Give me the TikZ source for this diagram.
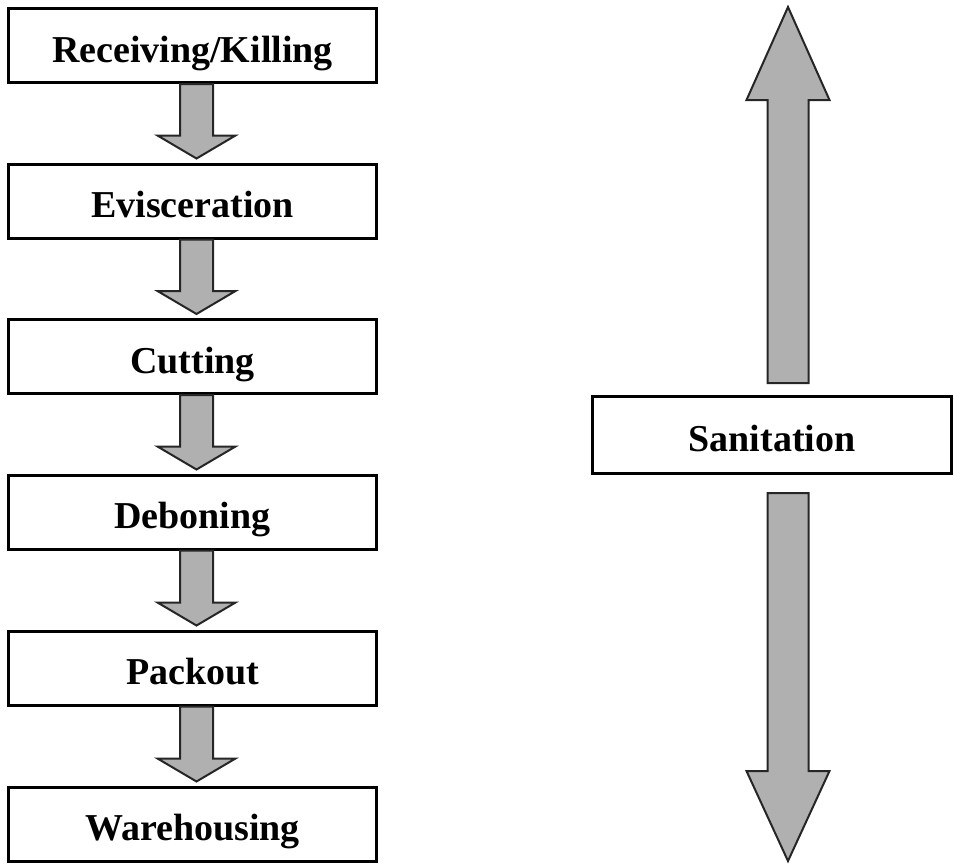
\documentclass[tikz,border=0pt]{standalone}
\usepackage{fontspec}
\setmainfont{Liberation Serif}
\usetikzlibrary{calc}

% block arrow: from, to, shaft half width, head half width, head length
\newcommand{\blockarrow}[5]{%
\draw[blockarrow] let \p1=(#1), \p2=(#2), \p3=($(#2)!#5!(#1)$) in
  (\x2-#3,\y1) -- (\x2-#3,\y3) -- (\x2-#4,\y3) -- (\x2,\y2)
  -- (\x2+#4,\y3) -- (\x2+#3,\y3) -- (\x2+#3,\y1) -- cycle;}

\begin{document}
\begin{tikzpicture}[x=1pt, y=-1pt,
  every node/.style={draw, rectangle, line width=3pt, fill=white, inner sep=0pt,
    minimum width=368pt, minimum height=74pt, text height=33pt, text depth=0pt,
    font=\fontsize{38}{44}\selectfont\bfseries},
  blockarrow/.style={draw=black!85, fill=black!31, line width=2pt}]
\useasboundingbox (0,0) rectangle (954,863);
\node (recv) at (192.5,45.5) {Receiving/Killing};
\node (evisc) at (192.5,201) {Evisceration};
\node (cut) at (192.5,356.5) {Cutting};
\node (debone) at (192.5,512) {Deboning};
\node (pack) at (192.5,668) {Packout};
\node (ware) at (192.5,824) {Warehousing};
\node[minimum width=359pt, minimum height=77pt] (sanit) at (772,435) {Sanitation};
\coordinate (uptip) at (788,7);
\coordinate (downtip) at (788,861);
\blockarrow{[xshift=4pt]recv.south}{[xshift=4pt,yshift=4pt]evisc.north}{16.5pt}{39pt}{23pt}
\blockarrow{[xshift=4pt]evisc.south}{[xshift=4pt,yshift=4pt]cut.north}{16.5pt}{39pt}{23pt}
\blockarrow{[xshift=4pt]cut.south}{[xshift=4pt,yshift=4pt]debone.north}{16.5pt}{39pt}{23pt}
\blockarrow{[xshift=4pt]debone.south}{[xshift=4pt,yshift=4pt]pack.north}{16.5pt}{39pt}{23pt}
\blockarrow{[xshift=4pt]pack.south}{[xshift=4pt,yshift=4pt]ware.north}{16.5pt}{39pt}{23pt}
\blockarrow{[xshift=16pt,yshift=12pt]sanit.north}{uptip}{20.5pt}{41.5pt}{93pt}
\blockarrow{[xshift=16pt,yshift=-18pt]sanit.south}{downtip}{20.5pt}{41.5pt}{90pt}
\end{tikzpicture}
\end{document}
